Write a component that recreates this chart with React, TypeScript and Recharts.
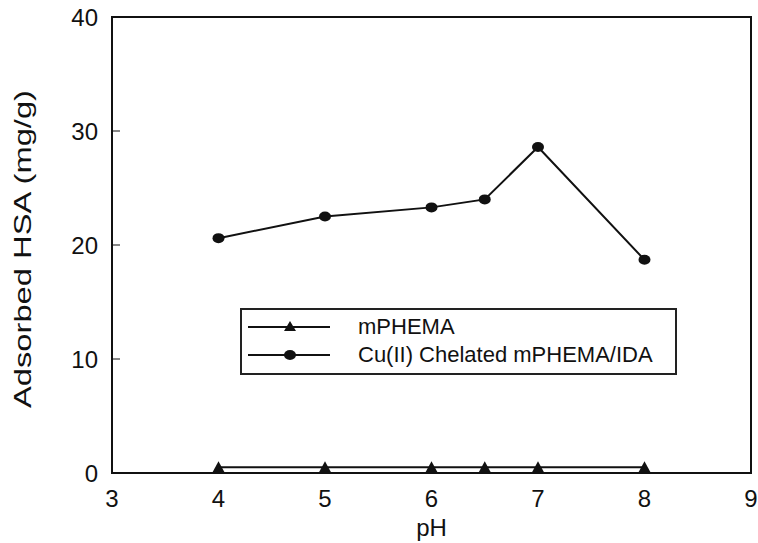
import React from "react";
import {
  LineChart,
  Line,
  XAxis,
  YAxis,
  Legend,
  ReferenceArea,
} from "recharts";

const phValues = [4, 5, 6, 6.5, 7, 8];
const mphema = [0.5, 0.5, 0.5, 0.5, 0.5, 0.5];
const cuChelated = [20.6, 22.5, 23.3, 24.0, 28.6, 18.7];
const xTicks = [3, 4, 5, 6, 7, 8, 9];
const yTicks = [0, 10, 20, 30, 40];

const FONT = "'Liberation Sans', Arial, Helvetica, sans-serif";

const data = phValues.map((ph, i) => ({
  ph,
  mphema: mphema[i],
  cu: cuChelated[i],
}));

const Triangle = (props: any) => {
  const { cx, cy } = props;
  if (cx == null || cy == null) return null;
  return (
    <polygon
      points={`${cx},${cy - 6} ${cx - 6},${cy + 5} ${cx + 6},${cy + 5}`}
      fill="#111"
    />
  );
};

const Dot = (props: any) => {
  const { cx, cy } = props;
  if (cx == null || cy == null) return null;
  return <ellipse cx={cx} cy={cy} rx={6} ry={5} fill="#111" />;
};

// y label is drawn a bit stretched along its length, like the scan
const YLabel = (props: any) => {
  const { viewBox } = props;
  const cy = viewBox.y + viewBox.height / 2 + 4;
  return (
    <text
      x={0}
      y={0}
      transform={`translate(31, ${cy}) rotate(-90)`}
      textAnchor="middle"
      fontSize={24}
      fontFamily={FONT}
      fill="#111"
      textLength={318}
      lengthAdjust="spacingAndGlyphs"
    >
      Adsorbed HSA (mg/g)
    </text>
  );
};

const LegendBox = () => (
  <div
    style={{
      border: "2px solid #222",
      width: 437,
      height: 67,
      boxSizing: "border-box",
      background: "#fff",
      fontFamily: FONT,
      fontSize: 22,
      color: "#111",
      padding: "3px 0 0 6px",
    }}
  >
    {[
      { name: "mPHEMA", marker: "tri" },
      { name: "Cu(II) Chelated mPHEMA/IDA", marker: "dot" },
    ].map((row) => (
      <div
        key={row.name}
        style={{ display: "flex", alignItems: "center", height: 28 }}
      >
        <svg width={110} height={20} style={{ flex: "none" }}>
          <line x1={0} y1={10} x2={82} y2={10} stroke="#111" strokeWidth={2} />
          {row.marker === "tri" ? (
            <polygon points="42,4 36,14 48,14" fill="#111" />
          ) : (
            <ellipse cx={42} cy={10} rx={6} ry={5} fill="#111" />
          )}
        </svg>
        <span>{row.name}</span>
      </div>
    ))}
  </div>
);

export default function App() {
  return (
    <div style={{ background: "#fff", width: 758, height: 543 }}>
      <style>{"body{margin:0}"}</style>
      <LineChart
        width={758}
        height={543}
        data={data}
        margin={{ top: 17, right: 7, left: 0, bottom: 0 }}
      >
        <XAxis
          dataKey="ph"
          type="number"
          domain={[3, 9]}
          ticks={xTicks}
          tickLine={false}
          axisLine={false}
          tickMargin={11}
          height={70}
          tick={{ fill: "#111", fontSize: 24, fontFamily: FONT }}
          label={{
            value: "pH",
            position: "insideBottom",
            offset: 7,
            fill: "#111",
            fontSize: 24,
            fontFamily: FONT,
          }}
        />
        <YAxis
          type="number"
          domain={[0, 40]}
          ticks={yTicks}
          width={112}
          axisLine={false}
          tickSize={-8}
          tickMargin={22}
          stroke="#111"
          tick={{ fill: "#111", fontSize: 24, fontFamily: FONT }}
          label={<YLabel />}
        />
        <ReferenceArea
          x1={3}
          x2={9}
          y1={0}
          y2={40}
          fill="none"
          stroke="#111"
          strokeWidth={2}
          ifOverflow="visible"
        />
        <Line
          dataKey="mphema"
          stroke="#111"
          strokeWidth={2}
          dot={<Triangle />}
          isAnimationActive={false}
        />
        <Line
          dataKey="cu"
          stroke="#111"
          strokeWidth={2}
          dot={<Dot />}
          isAnimationActive={false}
        />
        <Legend
          content={<LegendBox />}
          layout="vertical"
          verticalAlign="middle"
          align="center"
          wrapperStyle={{ left: 240, top: 308, width: "auto" }}
        />
      </LineChart>
    </div>
  );
}
